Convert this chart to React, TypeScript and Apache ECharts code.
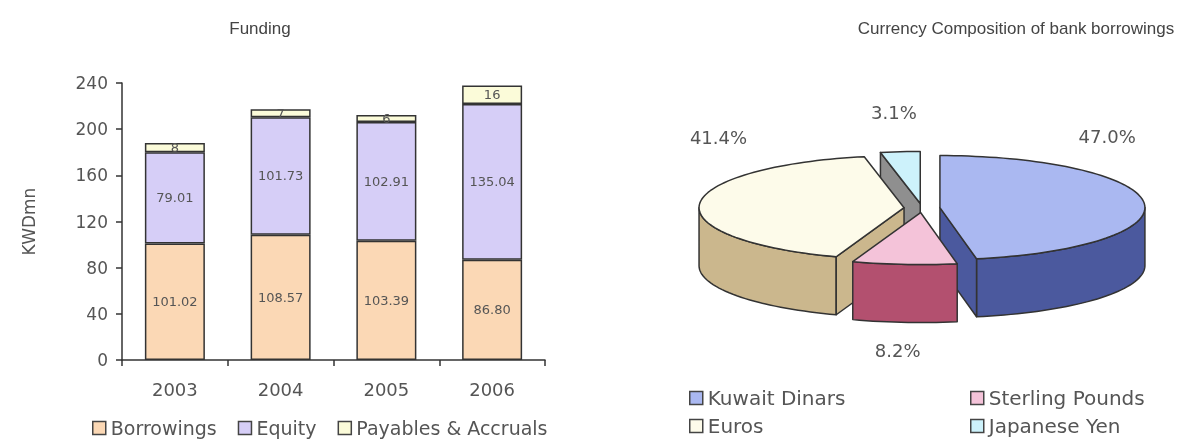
import React, { useEffect, useRef } from 'react';
import * as echarts from 'echarts';

// ---- Funding (stacked bars) ----
const years = ['2003', '2004', '2005', '2006'];
const borrowings = [101.02, 108.57, 103.39, 86.8];
const equity = [79.01, 101.73, 102.91, 135.04];
const payables = [8, 7, 6, 16];
const fundingSeriesNames = ['Borrowings', 'Equity', 'Payables & Accruals'];

// ---- Currency composition (3D pie) ----
const currencies = ['Kuwait Dinars', 'Sterling Pounds', 'Euros', 'Japanese Yen'];
const shares = [47.0, 8.2, 41.4, 3.1];

// styles
const barColors = ['#fbd8b5', '#d6cef7', '#fbfbd9'];
const topColors = ['#aab8f1', '#f4c3d9', '#fdfbea', '#cdf2fb'];
const sideColors = ['#4b599e', '#b3506f', '#cbb78d', '#8f8f8f'];
const depthRank = [2, 3, 1, 0];
const legendSpots = [
  { left: 689, top: 388 },
  { left: 970, top: 388 },
  { left: 689, top: 416 },
  { left: 970, top: 416 },
];
const FONT = 'DejaVu Sans';
const TXT = '#555';
const PIE = { cx: 922, cy: 208, rx: 205, ry: 52, h: 58, explode: 18 };

const TOTAL = shares.reduce((a, b) => a + b, 0);
const rad = (d: number) => (d * Math.PI) / 180;

function pieRenderer(i: number) {
  return (params: any, api: any) => {
    const value = api.value(0);
    let start = 0;
    for (let j = 0; j < i; j++) start += shares[j];
    const a0 = (start / TOTAL) * 360;
    const a1 = ((start + value) / TOTAL) * 360;
    const am = (a0 + a1) / 2;
    const k = PIE.ry / PIE.rx;
    const ax = PIE.cx + PIE.explode * Math.sin(rad(am));
    const ay = PIE.cy - PIE.explode * Math.cos(rad(am)) * k;
    const P = (t: number, dy = 0) => [ax + PIE.rx * Math.sin(rad(t)), ay - PIE.ry * Math.cos(rad(t)) + dy];
    const arc = (t0: number, t1: number, dy = 0) => {
      const n = Math.max(2, Math.ceil((t1 - t0) / 2));
      const pts: number[][] = [];
      for (let s = 0; s <= n; s++) pts.push(P(t0 + ((t1 - t0) * s) / n, dy));
      return pts;
    };
    const z = depthRank[i] * 10;
    const stroke = { stroke: '#333', lineWidth: 1.5, lineJoin: 'round' };
    const children: any[] = [];
    const v0 = Math.max(a0, 90);
    const v1 = Math.min(a1, 270);
    if (v1 > v0) {
      const top = arc(v0, v1);
      const bot = arc(v0, v1, PIE.h).reverse();
      children.push({ type: 'polygon', z2: z + 1, shape: { points: top.concat(bot) }, style: { fill: sideColors[i], ...stroke } });
    }
    if (Math.sin(rad(a0)) < -1e-6) {
      const p = P(a0);
      children.push({ type: 'polygon', z2: z + 2, shape: { points: [[ax, ay], p, [p[0], p[1] + PIE.h], [ax, ay + PIE.h]] }, style: { fill: sideColors[i], ...stroke } });
    }
    if (Math.sin(rad(a1)) > 1e-6) {
      const p = P(a1);
      children.push({ type: 'polygon', z2: z + 2, shape: { points: [[ax, ay], p, [p[0], p[1] + PIE.h], [ax, ay + PIE.h]] }, style: { fill: sideColors[i], ...stroke } });
    }
    children.push({ type: 'polygon', z2: z + 5, shape: { points: [[ax, ay]].concat(arc(a0, a1)) }, style: { fill: topColors[i], ...stroke } });
    // percentage label
    const s = Math.sin(rad(am));
    const c = Math.cos(rad(am));
    const lx = PIE.cx - 9 + 195 * s;
    const ly = PIE.cy - 90 * c + (c < 0 ? PIE.h : 0) - 64 * Math.abs(s);
    children.push({
      type: 'text', z2: 100, x: lx, y: ly,
      style: { text: value.toFixed(1) + '%', fill: TXT, fontSize: 18, fontFamily: FONT, align: 'center', verticalAlign: 'middle' },
    });
    return { type: 'group', children };
  };
}

export default function App() {
  const ref = useRef<HTMLDivElement>(null);
  useEffect(() => {
    if (!ref.current) return;
    const chart = echarts.init(ref.current, undefined, { renderer: 'svg' });
    const barData = [borrowings, equity, payables];
    const legendCommon = {
      icon: 'rect', itemWidth: 13, itemHeight: 13, padding: 0,
      itemStyle: { borderColor: '#444', borderWidth: 1.5 },
      textStyle: { fontSize: 19, color: TXT, fontFamily: FONT, lineHeight: 20 },
    };
    const titleStyle = { fontSize: 17, fontWeight: 'normal', color: '#444', fontFamily: "'Liberation Sans', Arial, sans-serif" };
    chart.setOption({
      animation: false,
      textStyle: { fontFamily: FONT },
      title: [
        { text: 'Funding', left: 255, top: 15, textAlign: 'center', textStyle: titleStyle },
        { text: 'Currency Composition of bank borrowings', left: 1011, top: 15, textAlign: 'center', textStyle: titleStyle },
      ],
      legend: [
        { ...legendCommon, data: fundingSeriesNames, left: 92, top: 418, itemGap: 21 },
        ...currencies.map((name, i) => ({
          ...legendCommon,
          textStyle: { ...legendCommon.textStyle, fontSize: 20 },
          data: [name], left: legendSpots[i].left, top: legendSpots[i].top,
        })),
      ],
      grid: { left: 122, right: 637, top: 83, bottom: 81 },
      xAxis: {
        type: 'category', data: years,
        axisLine: { lineStyle: { color: '#333', width: 1.5 } },
        axisTick: { show: true, length: 6, lineStyle: { color: '#333', width: 1.5 } },
        axisLabel: { color: TXT, fontSize: 18, margin: 20 },
      },
      yAxis: {
        type: 'value', min: 0, max: 240, interval: 40,
        name: 'KWDmn', nameLocation: 'middle', nameGap: 85,
        nameTextStyle: { color: TXT, fontSize: 17 },
        axisLine: { show: true, lineStyle: { color: '#333', width: 1.5 } },
        axisTick: { show: true, length: 6, lineStyle: { color: '#333', width: 1.5 } },
        axisLabel: { color: TXT, fontSize: 17, margin: 14 },
        splitLine: { show: false },
      },
      series: [
        ...fundingSeriesNames.map((name, i) => ({
          type: 'bar', name, stack: 'funding', data: barData[i], barWidth: 60,
          itemStyle: { color: barColors[i], borderColor: '#333', borderWidth: 1.5 },
          label: {
            show: true, position: 'inside', color: TXT, fontSize: 13,
            formatter: (p: any) => (i < 2 ? Number(p.value).toFixed(2) : String(p.value)),
          },
        })),
        ...currencies.map((name, i) => ({
          type: 'custom', name, coordinateSystem: 'none',
          data: [shares[i]],
          itemStyle: { color: topColors[i] },
          renderItem: pieRenderer(i),
        })),
      ],
    });
    return () => chart.dispose();
  }, []);
  return <div ref={ref} style={{ position: 'fixed', left: 0, top: 0, width: 1182, height: 441 }} />;
}
